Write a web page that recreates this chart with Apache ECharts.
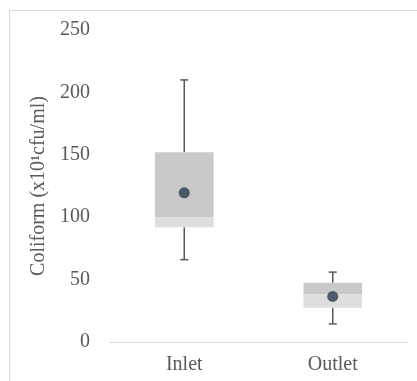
<!DOCTYPE html>
<html>
<head>
<meta charset="utf-8">
<script src="https://cdn.jsdelivr.net/npm/echarts@6/dist/echarts.min.js"></script>
<style>
  html, body { margin: 0; padding: 0; background: #fff; }
  #chart { width: 417px; height: 381px; }
</style>
</head>
<body>
<div id="chart"></div>
<script>
// Sampling sites and five-number summaries (x10^1 cfu/ml)
const categories = ['Inlet', 'Outlet'];
const minValues = [66, 14.5];
const q1Values = [92, 27.5];
const medianValues = [100, 38];
const q3Values = [152, 47.5];
const maxValues = [210, 56];
const meanValues = [119.5, 36.5];
const yTicks = [0, 50, 100, 150, 200, 250];

const FONT = '"Liberation Serif", "Times New Roman", serif';
const TEXT = '#595959';

const rows = categories.map((c, i) => [i, minValues[i], q1Values[i], medianValues[i], q3Values[i], maxValues[i]]);

const chart = echarts.init(document.getElementById('chart'), null, { renderer: 'canvas' });

chart.setOption({
  animation: false,
  backgroundColor: '#fff',
  grid: { left: 110, right: 10, top: 30, bottom: 39 },
  graphic: [{
    type: 'rect',
    shape: { x: 9.5, y: 10.5, width: 600, height: 600 },
    style: { fill: 'none', stroke: '#d9d9d9', lineWidth: 1 },
    silent: true, z: -10
  }],
  xAxis: {
    type: 'category',
    data: categories,
    axisLine: { lineStyle: { color: '#d9d9d9', width: 1 } },
    axisTick: { show: false },
    axisLabel: { fontFamily: FONT, fontSize: 20, color: TEXT, margin: 13 }
  },
  yAxis: {
    type: 'value',
    min: yTicks[0],
    max: yTicks[yTicks.length - 1],
    interval: 50,
    name: 'Coliform (x10\u00B9cfu/ml)',
    nameLocation: 'middle',
    nameGap: 58,
    nameRotate: 90,
    nameTextStyle: { fontFamily: FONT, fontSize: 20, color: TEXT },
    axisLine: { show: false },
    axisTick: { show: false },
    splitLine: { show: false },
    axisLabel: { fontFamily: FONT, fontSize: 20, color: TEXT, margin: 20 }
  },
  series: [
    {
      type: 'custom',
      data: rows,
      encode: { x: 0, y: [1, 2, 3, 4, 5] },
      renderItem: function (params, api) {
        const idx = api.value(0);
        const pMin = api.coord([idx, api.value(1)]);
        const pQ1 = api.coord([idx, api.value(2)]);
        const pMed = api.coord([idx, api.value(3)]);
        const pQ3 = api.coord([idx, api.value(4)]);
        const pMax = api.coord([idx, api.value(5)]);
        const band = api.size([1, 0])[0];
        const bw = band * 0.395;
        const cx = pMed[0];
        const cap = 4;
        const ws = { stroke: '#595959', lineWidth: 1.5 };
        return {
          type: 'group',
          children: [
            { type: 'line', shape: { x1: cx, y1: pMax[1], x2: cx, y2: pQ3[1] }, style: ws },
            { type: 'line', shape: { x1: cx - cap, y1: pMax[1], x2: cx + cap, y2: pMax[1] }, style: ws },
            { type: 'line', shape: { x1: cx, y1: pMin[1], x2: cx, y2: pQ1[1] }, style: ws },
            { type: 'line', shape: { x1: cx - cap, y1: pMin[1], x2: cx + cap, y2: pMin[1] }, style: ws },
            { type: 'rect', shape: { x: cx - bw / 2, y: pQ3[1], width: bw, height: pMed[1] - pQ3[1] }, style: { fill: '#c9c9c9' } },
            { type: 'rect', shape: { x: cx - bw / 2, y: pMed[1], width: bw, height: pQ1[1] - pMed[1] }, style: { fill: '#dedede' } }
          ]
        };
      },
      z: 2
    },
    {
      type: 'scatter',
      data: meanValues.map((v, i) => [i, v]),
      symbol: 'circle',
      symbolSize: 11,
      itemStyle: { color: '#2c3a50' },
      z: 3
    }
  ]
});
</script>
</body>
</html>
